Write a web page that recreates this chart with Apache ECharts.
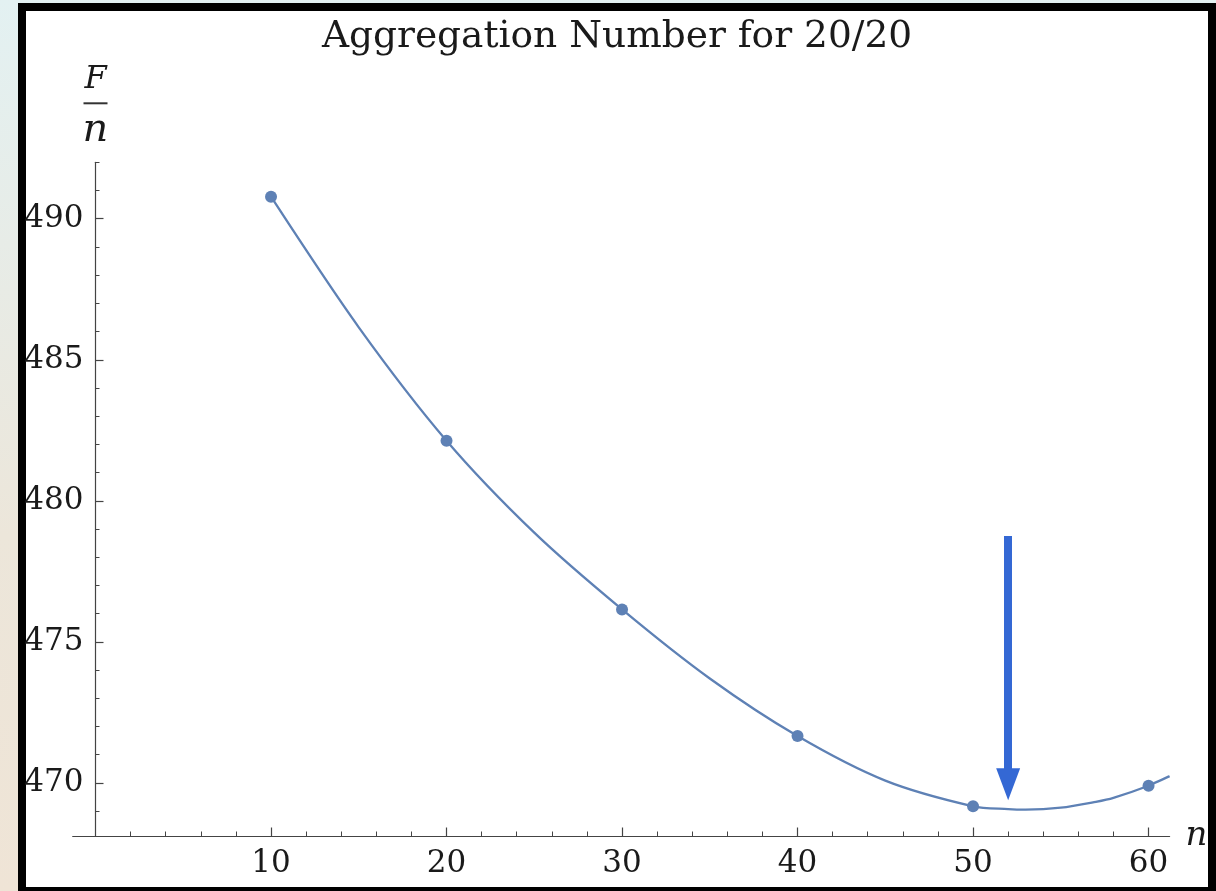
<!DOCTYPE html>
<html>
<head>
<meta charset="utf-8">
<script src="https://cdn.jsdelivr.net/npm/echarts@6/dist/echarts.min.js"></script>
<style>
  body { margin: 0; }
  #wrap { position: relative; width: 1216px; height: 891px; overflow: hidden;
          background: linear-gradient(#e3f1f2, #ece6da 60%, #efe4d6); }
  #frame { position: absolute; left: 18px; top: 3px; right: 0; bottom: -4px;
           background: #fff; border: 8px solid #000; box-sizing: border-box; }
  #main { position: absolute; left: 0; top: 0; width: 1216px; height: 891px; }
</style>
</head>
<body>
<div id="wrap">
  <div id="frame"></div>
  <div id="main"></div>
</div>
<script>
// measured points (n, F/n)
var pointsN = [10, 20, 30, 40, 50, 60];
var pointsF = [490.78, 482.13, 476.15, 471.66, 469.17, 469.90];

// fitted curve
var curveN = [10, 15, 20, 25, 30, 35, 40, 45, 50, 52, 53, 55, 57, 58, 60, 61.2];
var curveF = [490.78, 486.15, 482.13, 478.87, 476.15, 473.70, 471.66, 470.08, 469.17, 469.07, 469.05, 469.12, 469.33, 469.47, 469.90, 470.24];

// arrow marking the minimum: [n, top F] -> [n, head F]
var arrowFrom = [52, 478.75];
var arrowTo = [52, 469.95];

var xMajor = [10, 20, 30, 40, 50, 60];
var xMinor = [2, 4, 6, 8, 12, 14, 16, 18, 22, 24, 26, 28, 32, 34, 36, 38, 42, 44, 46, 48, 52, 54, 56, 58];
var yMajor = [470, 475, 480, 485, 490];
var yMinor = [469, 471, 472, 473, 474, 476, 477, 478, 479, 481, 482, 483, 484, 486, 487, 488, 489, 491, 492];

var serif = 'DejaVu Serif';
var lineColor = '#5e81b5';
var axisColor = '#444';
var yOffset = -22.8; // y axis sits at n = 0, right of the grid's left edge

function zip(a, b) {
    var out = [];
    for (var i = 0; i < a.length; i++) out.push([a[i], b[i]]);
    return out;
}

function xAxisBase(extra) {
    var o = {
        type: 'value',
        gridIndex: 0,
        position: 'bottom',
        min: -1.3,
        max: 61.2,
        splitLine: {show: false},
        axisLine: {show: false, onZero: false},
        axisLabel: {show: false},
        axisTick: {show: false}
    };
    for (var k in extra) o[k] = extra[k];
    return o;
}

function yAxisBase(extra) {
    var o = {
        type: 'value',
        gridIndex: 0,
        position: 'left',
        offset: yOffset,
        min: 468.1,
        max: 492,
        splitLine: {show: false},
        axisLine: {show: false, onZero: false},
        axisLabel: {show: false},
        axisTick: {show: false}
    };
    for (var k in extra) o[k] = extra[k];
    return o;
}

var myChart = echarts.init(document.getElementById('main'), null, {renderer: 'canvas'});
myChart.setOption({
    animation: false,
    backgroundColor: 'transparent',
    title: {
        text: 'Aggregation Number for 20/20',
        left: 617,
        top: 18,
        padding: 0,
        textAlign: 'center',
        textStyle: {fontFamily: serif, fontSize: 37.5, fontWeight: 'normal', color: '#1a1a1a'}
    },
    grid: {left: 72.7, right: 46.4, top: 162.3, bottom: 54.5, containLabel: false},
    xAxis: [
        xAxisBase({
            axisLine: {show: true, onZero: false, lineStyle: {color: axisColor, width: 1.2}},
            axisTick: {show: true, inside: true, length: 9, customValues: xMajor,
                       lineStyle: {color: axisColor, width: 1.2}},
            axisLabel: {show: true, customValues: xMajor, margin: 12,
                        fontFamily: serif, fontSize: 31, color: '#1a1a1a'},
            name: 'n',
            nameLocation: 'end',
            nameGap: 16,
            nameTextStyle: {fontFamily: serif, fontStyle: 'italic', fontSize: 34,
                            color: '#1a1a1a', align: 'left', verticalAlign: 'middle'}
        }),
        xAxisBase({
            axisTick: {show: true, inside: true, length: 5, customValues: xMinor,
                       lineStyle: {color: axisColor, width: 1}}
        })
    ],
    yAxis: [
        yAxisBase({
            axisLine: {show: true, onZero: false, lineStyle: {color: axisColor, width: 1.2}},
            axisTick: {show: true, inside: true, length: 8, customValues: yMajor,
                       lineStyle: {color: axisColor, width: 1.2}},
            axisLabel: {show: true, customValues: yMajor, margin: 12,
                        fontFamily: serif, fontSize: 31, color: '#1a1a1a'},
            name: '{f|F}\n{bar|}\n{n|n}',
            nameLocation: 'end',
            nameGap: 12,
            nameTextStyle: {
                align: 'center',
                verticalAlign: 'bottom',
                rich: {
                    f: {fontFamily: serif, fontStyle: 'italic', fontSize: 32, lineHeight: 34, color: '#1a1a1a', align: 'center'},
                    bar: {width: 24, height: 2, lineHeight: 14, backgroundColor: '#333', align: 'center'},
                    n: {fontFamily: serif, fontStyle: 'italic', fontSize: 40, lineHeight: 40, color: '#1a1a1a', align: 'center'}
                }
            }
        }),
        yAxisBase({
            axisTick: {show: true, inside: true, length: 4, customValues: yMinor,
                       lineStyle: {color: axisColor, width: 1}}
        })
    ],
    series: [
        {
            name: 'fit',
            type: 'line',
            xAxisIndex: 0,
            yAxisIndex: 0,
            data: zip(curveN, curveF),
            smooth: 0.3,
            showSymbol: false,
            lineStyle: {color: lineColor, width: 2.3},
            silent: true,
            markLine: {
                silent: true,
                symbol: ['none', 'triangle'],
                symbolSize: [24, 32],
                label: {show: false},
                lineStyle: {color: '#3468d4', width: 8, type: 'solid'},
                data: [[
                    {coord: arrowFrom, symbol: 'none'},
                    {coord: arrowTo, symbol: 'triangle', symbolSize: [24, 32]}
                ]]
            }
        },
        {
            name: 'points',
            type: 'scatter',
            xAxisIndex: 0,
            yAxisIndex: 0,
            data: zip(pointsN, pointsF),
            symbolSize: 12,
            itemStyle: {color: lineColor, opacity: 1}
        }
    ]
});
</script>
</body>
</html>
